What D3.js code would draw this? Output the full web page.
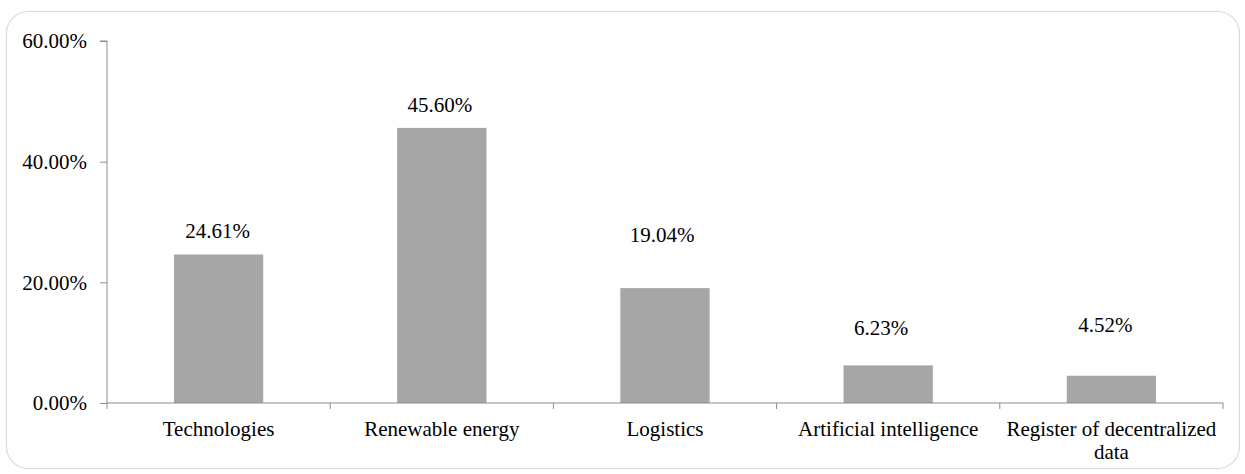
<!DOCTYPE html>
<html>
<head>
<meta charset="utf-8">
<script src="https://cdn.jsdelivr.net/npm/d3@7"></script>
<style>
  html, body { margin: 0; padding: 0; background: #fff; }
  svg { display: block; }
  text { font-family: "Liberation Serif", "Times New Roman", serif; fill: #000; }
</style>
</head>
<body>
<svg id="chart" width="1245" height="474"></svg>
<script>
// Share of projects by field
const categories = [
  ["Technologies"],
  ["Renewable energy"],
  ["Logistics"],
  ["Artificial intelligence"],
  ["Register of decentralized", "data"]
];
const values = [24.61, 45.60, 19.04, 6.23, 4.52];
const yTicks = [0, 20, 40, 60];

const W = 1245, H = 474;
const margin = { left: 107, right: 22, top: 41, bottom: 71 };
const fontSize = "21px";
const svg = d3.select("#chart");

// outer frame
svg.append("rect")
  .attr("x", 6.5).attr("y", 11.5)
  .attr("width", 1233).attr("height", 457)
  .attr("rx", 22).attr("ry", 22)
  .attr("fill", "#fff").attr("stroke", "#d9d9d9").attr("stroke-width", 1.2);

const x = d3.scaleBand()
  .domain(d3.range(categories.length))
  .range([margin.left, W - margin.right])
  .paddingInner(0.6).paddingOuter(0.3);

const y = d3.scaleLinear().domain([0, 60]).range([H - margin.bottom, margin.top]);

const axisColor = "#8c8c8c";

// y axis
const yAxis = svg.append("g")
  .attr("transform", `translate(${margin.left},0)`)
  .call(d3.axisLeft(y).tickValues(yTicks).tickSize(7).tickPadding(13)
    .tickFormat(d => d.toFixed(2) + "%"));
yAxis.select(".domain").attr("stroke", axisColor).attr("d", `M-7,${y(60)}H0V${y(0)}`);
yAxis.selectAll(".tick line").attr("stroke", axisColor);
yAxis.selectAll(".tick text")
  .style("font-family", '"Liberation Serif", "Times New Roman", serif')
  .style("font-size", fontSize).attr("fill", "#000");

// bars
svg.append("g").selectAll("rect")
  .data(values)
  .join("rect")
  .attr("x", (d, i) => x(i))
  .attr("width", x.bandwidth())
  .attr("y", d => y(d))
  .attr("height", d => y(0) - y(d))
  .attr("fill", "#a6a6a6");

// x axis with ticks at category boundaries
const x0 = margin.left, x1 = W - margin.right;
const xg = svg.append("g").attr("transform", `translate(0,${y(0)})`);
xg.append("line").attr("x1", x0).attr("x2", x1).attr("y1", 0).attr("y2", 0)
  .attr("stroke", axisColor);
const bandEdges = d3.range(categories.length + 1).map(i => x0 + i * (x1 - x0) / categories.length);
xg.selectAll("line.tk").data(bandEdges).join("line")
  .attr("class", "tk")
  .attr("x1", d => d).attr("x2", d => d).attr("y1", 0).attr("y2", 6)
  .attr("stroke", axisColor);

// category labels
const catG = xg.selectAll("text.cat").data(categories).join("text")
  .attr("class", "cat")
  .attr("text-anchor", "middle")
  .attr("x", (d, i) => x(i) + x.bandwidth() / 2)
  .attr("y", 33)
  .style("font-size", fontSize);
catG.selectAll("tspan").data(d => d).join("tspan")
  .attr("x", function () { return this.parentNode.getAttribute("x"); })
  .attr("dy", (d, i) => i === 0 ? 0 : 23)
  .text(d => d);

// value labels, lifted above each bar
const labelLift = [17, 16, 46, 30, 44];
const labelShift = [-1, -2, -3, -7, -6];
svg.append("g").selectAll("text")
  .data(values)
  .join("text")
  .attr("text-anchor", "middle")
  .attr("x", (d, i) => x(i) + x.bandwidth() / 2 + labelShift[i])
  .attr("y", (d, i) => y(d) - labelLift[i])
  .style("font-size", fontSize)
  .text(d => d.toFixed(2) + "%");
</script>
</body>
</html>
